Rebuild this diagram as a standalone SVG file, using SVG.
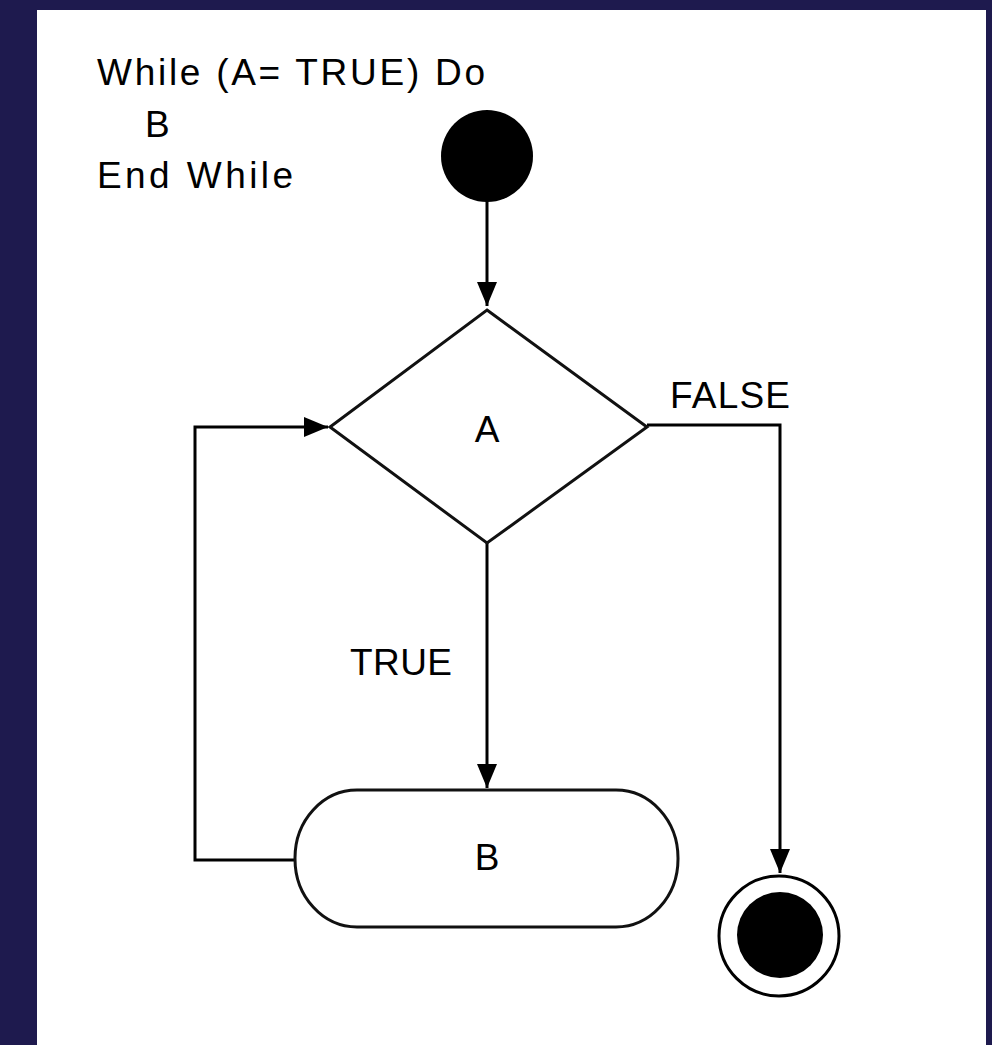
<svg xmlns="http://www.w3.org/2000/svg" width="992" height="1045" viewBox="0 0 992 1045">
<style>
.t{font-family:"Liberation Sans",Arial,sans-serif;font-size:37px;fill:#000}
.ln{fill:none;stroke:#000;stroke-width:3}
.sh{fill:#fff;stroke:#111;stroke-width:3}
</style>
<defs>
<marker id="ah" viewBox="0 0 24 20" refX="24" refY="10" markerWidth="24" markerHeight="20" markerUnits="userSpaceOnUse" orient="auto">
<path d="M0,0 L24,10 L0,20 Z" fill="#000"/>
</marker>
</defs>
<rect width="992" height="1045" fill="#1e1a4e"/>
<rect x="37" y="10" width="949" height="1035" fill="#fff"/>
<g id="code">
<text class="t" x="97" y="85" textLength="388" lengthAdjust="spacing">While (A= TRUE) Do</text>
<text class="t" x="145" y="137">B</text>
<text class="t" x="97" y="188" textLength="196" lengthAdjust="spacing">End While</text>
</g>
<g id="connectors">
<path class="ln" d="M487,200 L487,306" marker-end="url(#ah)"/>
<path class="ln" d="M487,543 L487,788" marker-end="url(#ah)"/>
<path class="ln" d="M647,425 L780,425 L780,873" marker-end="url(#ah)"/>
<path class="ln" d="M295,860 L195,860 L195,427 L328,427" marker-end="url(#ah)"/>
<text class="t" x="350" y="675" textLength="102" lengthAdjust="spacing">TRUE</text>
<text class="t" x="670" y="408" textLength="120" lengthAdjust="spacing">FALSE</text>
</g>
<g id="start">
<circle cx="487" cy="156" r="46" fill="#000"/>
</g>
<g id="decision">
<polygon class="sh" points="487,310 647,427 487,543 330,427"/>
<text class="t" x="487" y="442" text-anchor="middle">A</text>
</g>
<g id="action">
<rect class="sh" x="295" y="790" width="383" height="137" rx="62" ry="68"/>
<text class="t" x="487" y="870" text-anchor="middle">B</text>
</g>
<g id="end">
<circle cx="779" cy="936" r="60" fill="#fff" stroke="#000" stroke-width="3"/>
<circle cx="780" cy="935" r="43" fill="#000"/>
</g>
</svg>
